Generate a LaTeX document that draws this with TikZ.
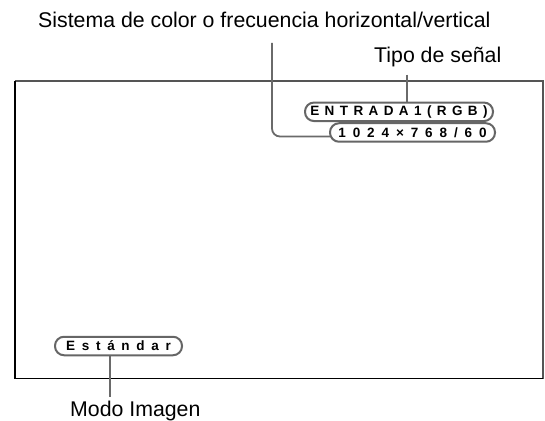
\documentclass[tikz,border=0pt]{standalone}
\usepackage{fontspec}
\setmainfont{Liberation Sans}
\makeatletter
\newcommand\spacedtxt[2]{\def\sp@first{1}\@tfor\sp@c:=#2\do{\ifx\sp@first\@empty\hspace{#1}\fi\def\sp@first{}\sp@c}}
\makeatother
\definecolor{leadgray}{HTML}{6A6A6A}
\definecolor{pillgray}{HTML}{666666}
\definecolor{framegray}{HTML}{555555}
\tikzset{
  lbl/.style={inner sep=0pt, anchor=base west, font=\fontsize{21.3}{24}\selectfont},
  pill/.style={draw=pillgray, line width=2pt, rounded corners=9pt, minimum height=18.5pt, inner sep=0pt, font=\fontsize{13.5}{15}\bfseries\selectfont},
  leader/.style={draw=leadgray, line width=1.8pt},
}
\begin{document}
\begin{tikzpicture}[x=1pt,y=1pt]
\useasboundingbox (0,0) rectangle (545,420);
% frame
\draw[framegray, line width=1.5pt] (15,339) -- (543,339) -- (543,41.5);
\draw[black, line width=1.2pt] (15,339) -- (15,41.5) -- (543,41.5);
% labels
\node[lbl] (sys) at (38,392.5) {Sistema de color o frecuencia horizontal/vertical};
\node[lbl] (tipo) at (374,357) {Tipo de señal};
\node[lbl] (modo) at (70,4) {Modo Imagen};
% pills
\node[pill, minimum width=188pt] (p1) at (399,308.2) {\spacedtxt{5.4pt}{ENTRADA1(RGB)}};
\node[pill, minimum width=165pt] (p2) at (412.5,287.5) {\spacedtxt{6.9pt}{1024×768/60}};
\node[pill, minimum width=127pt] (est) at (118.5,74) {\spacedtxt{6.7pt}{Estándar}};
% leader ends
\coordinate (sysTop) at (272,377);
\coordinate (tipoTop) at (407,345.3);
\coordinate (modoBot) at (110,23);
% leaders
\draw[leader] (tipoTop) -- (tipoTop |- p1.north);
\draw[leader, rounded corners=8pt] (sysTop) -- (272,283.5) -- ([xshift=1pt,yshift=-4pt]p2.west);
\draw[leader] ([xshift=-8.5pt]est.south) -- (modoBot);
\end{tikzpicture}
\end{document}
